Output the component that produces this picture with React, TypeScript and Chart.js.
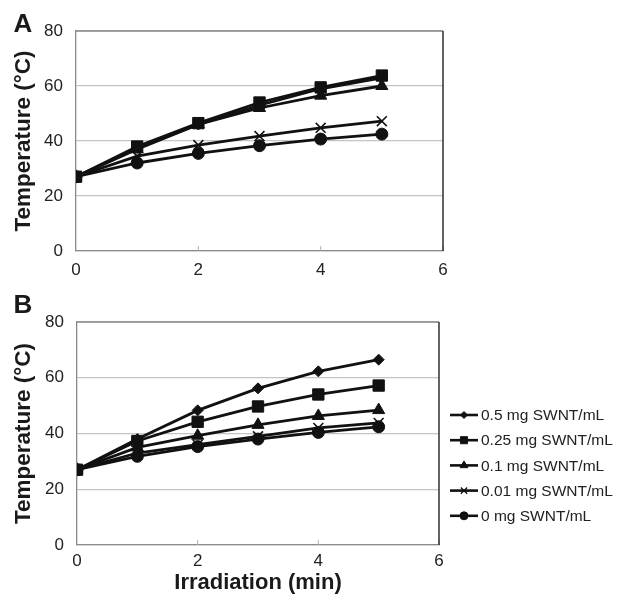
import React, { useEffect, useRef } from "react";
import { Chart, registerables } from "chart.js";
import * as helpersAll from "chart.js/helpers";
Chart.register(...registerables);

const timeMin = [0, 1, 2, 3, 4, 5];
const seriesLabels = [
  "0.5 mg SWNT/mL",
  "0.25 mg SWNT/mL",
  "0.1 mg SWNT/mL",
  "0.01 mg SWNT/mL",
  "0 mg SWNT/mL",
];
const markerStyles = ["rectRot", "rect", "triangle", "crossRot", "circle"];
const markerRadii = [5.5, 8, 7, 7, 6];
const legendRadii = [3.5, 5, 4.5, 4.5, 4];

// Panel A
const a05 = [27, 37.5, 46, 53, 59, 63];
const a025 = [27, 38, 46.5, 54, 59.5, 63.8];
const a01 = [27, 37, 46, 52, 56.5, 60];
const a001 = [27, 34.5, 38.5, 41.8, 44.8, 47.2];
const a0 = [27, 32, 35.5, 38.3, 40.7, 42.5];
// Panel B
const b05 = [27, 38, 48.3, 56.2, 62.3, 66.5];
const b025 = [27, 37.3, 44.2, 49.7, 54, 57.2];
const b01 = [27, 35, 39.2, 43.1, 46.3, 48.4];
const b001 = [27, 33, 36, 39, 42, 43.8];
const b0 = [27, 31.8, 35.3, 38, 40.4, 42.4];

const xMin = 0, xMax = 6, xStep = 2;
const yMin = 0, yMax = 80, yStep = 20;
const yTitle = "Temperature (\u00B0C)";
const xTitle = "Irradiation (min)";

const FONT = "'Liberation Sans', Arial, Helvetica, sans-serif";

function makeDatasets(series: number[][]) {
  return series.map((vals, i) => ({
    label: seriesLabels[i],
    data: timeMin.map((t, j) => ({ x: t, y: vals[j] })),
    borderColor: "#111",
    backgroundColor: "#111",
    borderWidth: 2.8,
    pointStyle: markerStyles[i] as any,
    pointRadius: markerRadii[i],
    pointBorderWidth: i === 3 ? 1.6 : 1,
    pointBorderColor: "#111",
    pointBackgroundColor: "#111",
    tension: 0,
  }));
}

const framePlugin = (letter: string, letterBaseline: number, showLegend: boolean) => ({
  id: "frame" + letter,
  beforeDatasetsDraw(chart: any) {
    const { ctx, chartArea: a, scales } = chart;
    ctx.save();
    ctx.lineWidth = 1.3;
    ctx.strokeStyle = "#8a8a8a";
    ctx.beginPath();
    ctx.moveTo(a.left, a.top);
    ctx.lineTo(a.right, a.top);
    ctx.stroke();
    ctx.strokeStyle = "#b0b0b0";
    ctx.lineWidth = 1;
    for (let v = xMin + xStep; v <= xMax; v += xStep) {
      const px = scales.x.getPixelForValue(v);
      ctx.beginPath();
      ctx.moveTo(px, a.bottom);
      ctx.lineTo(px, a.bottom - 5);
      ctx.stroke();
    }
    ctx.strokeStyle = "#222";
    ctx.lineWidth = 1.4;
    ctx.beginPath();
    ctx.moveTo(a.right, a.top);
    ctx.lineTo(a.right, a.bottom);
    ctx.stroke();
    ctx.restore();
  },
  afterDraw(chart: any) {
    const { ctx, chartArea: a } = chart;
    ctx.save();
    ctx.fillStyle = "#1a1a1a";
    ctx.font = `bold 26px ${FONT}`;
    ctx.textAlign = "center";
    ctx.textBaseline = "alphabetic";
    ctx.fillText(letter, 23, letterBaseline);
    if (showLegend) {
      const x0 = a.right + 11;
      const y0 = 135;
      const gap = 25.2;
      chart.data.datasets.forEach((ds: any, i: number) => {
        const y = y0 + i * gap;
        ctx.strokeStyle = "#111";
        ctx.lineWidth = 2.6;
        ctx.beginPath();
        ctx.moveTo(x0, y);
        ctx.lineTo(x0 + 28, y);
        ctx.stroke();
        ctx.fillStyle = "#111";
        ctx.lineWidth = i === 3 ? 1.3 : 1;
        (helpersAll as any).drawPoint(
          ctx,
          { pointStyle: markerStyles[i], radius: legendRadii[i], rotation: 0, borderWidth: 1 },
          x0 + 14,
          y
        );
        ctx.fillStyle = "#222";
        ctx.font = `15.5px ${FONT}`;
        ctx.textAlign = "left";
        ctx.textBaseline = "middle";
        ctx.fillText(ds.label, x0 + 31, y + 1);
      });
    }
    ctx.restore();
  },
});

function buildConfig(
  series: number[][],
  opts: { padTop: number; padRight: number; yWidth: number; xHeight: number; xTickPad: number; showXTitle: boolean; letter: string; letterBaseline: number; legend: boolean }
): any {
  return {
    type: "line",
    data: { datasets: makeDatasets(series) },
    options: {
      animation: false,
      responsive: false,
      maintainAspectRatio: false,
      layout: { padding: { top: opts.padTop, right: opts.padRight, left: 0, bottom: 0 } },
      plugins: { legend: { display: false }, tooltip: { enabled: false } },
      scales: {
        x: {
          type: "linear",
          min: xMin,
          max: xMax,
          afterFit: (s: any) => { s.height = opts.xHeight; },
          ticks: { stepSize: xStep, padding: opts.xTickPad, color: "#222", font: { size: 17, family: FONT } },
          grid: { display: false, drawTicks: false },
          border: { display: true, color: "#8a8a8a", width: 1.3 },
          title: {
            display: opts.showXTitle,
            text: xTitle,
            color: "#1a1a1a",
            font: { size: 22, weight: "bold", family: FONT },
            padding: { top: 0, bottom: 1 },
          },
        },
        y: {
          min: yMin,
          max: yMax,
          afterFit: (s: any) => { s.width = opts.yWidth; },
          ticks: { stepSize: yStep, padding: 13, color: "#222", font: { size: 17, family: FONT } },
          grid: { color: "#c4c4c4", lineWidth: 1.2, drawTicks: false },
          border: { display: true, color: "#8a8a8a", width: 1.3 },
          title: {
            display: true,
            text: yTitle,
            color: "#1a1a1a",
            font: { size: 22.5, weight: "bold", family: FONT },
            padding: { top: 10, bottom: 0 },
          },
        },
      },
    },
    plugins: [framePlugin(opts.letter, opts.letterBaseline, opts.legend)],
  };
}

function ChartCanvas({ config, width, height }: { config: () => any; width: number; height: number }) {
  const ref = useRef<HTMLCanvasElement | null>(null);
  useEffect(() => {
    if (!ref.current) return;
    const chart = new Chart(ref.current, config());
    return () => chart.destroy();
  }, []);
  return <canvas ref={ref} width={width} height={height} style={{ display: "block", width, height }} />;
}

export default function App() {
  return (
    <div style={{ position: "absolute", left: 0, top: 0, width: 617, height: 597, background: "#fff" }}>
      <div style={{ position: "absolute", left: 0, top: 0 }}>
        <ChartCanvas
          width={617}
          height={280}
          config={() =>
            buildConfig([a05, a025, a01, a001, a0], {
              padTop: 31, padRight: 174, yWidth: 76, xHeight: 29, xTickPad: 9,
              showXTitle: false, letter: "A", letterBaseline: 32, legend: false,
            })
          }
        />
      </div>
      <div style={{ position: "absolute", left: 0, top: 280 }}>
        <ChartCanvas
          width={617}
          height={317}
          config={() =>
            buildConfig([b05, b025, b01, b001, b0], {
              padTop: 42, padRight: 178, yWidth: 77, xHeight: 52, xTickPad: 6,
              showXTitle: true, letter: "B", letterBaseline: 33, legend: true,
            })
          }
        />
      </div>
    </div>
  );
}
